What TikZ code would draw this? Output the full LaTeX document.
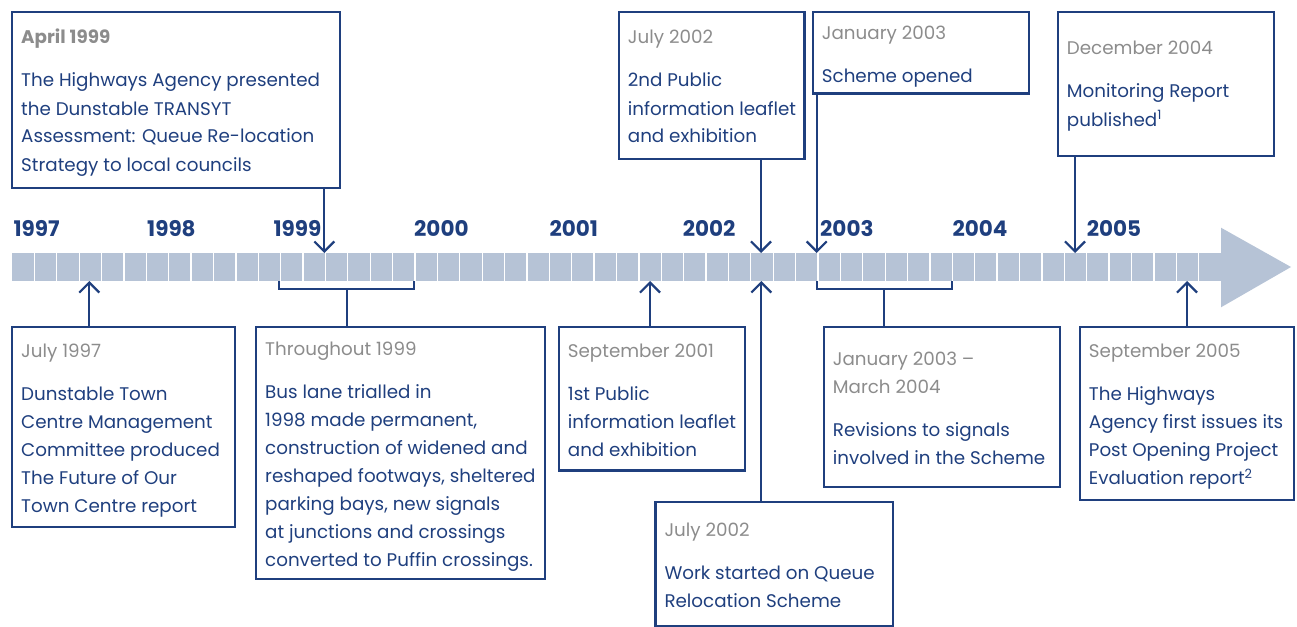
\documentclass[tikz,border=0pt]{standalone}
\usepackage{fontspec}
\setmainfont{Poppins}
\usetikzlibrary{arrows.meta}
\definecolor{hblue}{HTML}{1F3F7E}
\definecolor{hgray}{HTML}{8C8C8C}
\definecolor{hbar}{HTML}{B6C3D6}
\newcommand\evtext[2]{\parbox[t]{400pt}{\raggedright\fontsize{18.3}{28}\selectfont\lineskiplimit=-30pt\relax
  \leavevmode{\color{hgray}#1}\\[15pt]#2}}
\tikzset{
  box/.style={draw=hblue, line width=2.4pt, rectangle, inner sep=0pt, anchor=north west},
  txt/.style={anchor=base west, inner sep=0pt, text=hblue},
  arr/.style={draw=hblue, line width=2.2pt, -{Straight Barb[length=10pt,width=20pt]}},
  link/.style={draw=hblue, line width=2.2pt},
  yr/.style={anchor=base west, inner sep=0pt, text=hblue, font=\bfseries\fontsize{21.5}{21.5}\selectfont},
}
\begin{document}
\begin{tikzpicture}[x=1pt,y=-1pt]
\useasboundingbox (0,0) rectangle (1297,626);
% timeline bar
\fill[hbar] (12,253) rectangle (1221,281);
\foreach \i in {1,...,53} \draw[white, line width=1.3pt] ({12+\i*22.389},252) -- ++(0,30);
\fill[hbar] (1221,227.7) -- (1291,267) -- (1221,307.3) -- cycle;
% year labels
\node[yr] (y1997) at (13.3,236.7) {1997};
\node[yr] (y1998) at (147,236.7) {1998};
\node[yr] (y1999) at (273.3,236.7) {1999};
\node[yr] (y2000) at (414,236.7) {2000};
\node[yr] (y2001) at (549.3,236.7) {2001};
\node[yr] (y2002) at (682.7,236.7) {2002};
\node[yr] (y2003) at (820,236.7) {2003};
\node[yr] (y2004) at (952.3,236.7) {2004};
\node[yr] (y2005) at (1086.7,236.7) {2005};
% boxes
\node[box, minimum width=328pt, minimum height=176pt] (apr) at (11,11) {};
\node[box, minimum width=185.6pt, minimum height=146.7pt] (jul02t) at (617.7,11) {};
\node[box, minimum width=216pt, minimum height=81.3pt] (jan03t) at (811.7,11) {};
\node[box, minimum width=216pt, minimum height=144pt] (dec04) at (1056.7,11) {};
\node[box, minimum width=223pt, minimum height=200pt] (jul97) at (11,325.7) {};
\node[box, minimum width=289pt, minimum height=252.3pt] (thr99) at (255,325.7) {};
\node[box, minimum width=186.3pt, minimum height=143.6pt] (sep01) at (557.7,325.7) {};
\node[box, minimum width=237.4pt, minimum height=123.8pt] (jul02b) at (654.3,500.7) {};
\node[box, minimum width=236pt, minimum height=160pt] (jan0304) at (822.7,325.7) {};
\node[box, minimum width=214pt, minimum height=173.3pt] (sep05) at (1078.7,325.7) {};
% texts
\node[txt] (apr-t) at ([shift={(10,33)}]apr.north west) {\evtext{\textbf{April 1999}}{The Highways Agency presented\\the Dunstable TRANSYT\\Assessment: Queue Re-location\\Strategy to local councils}};
\node[txt] (jul02t-t) at ([shift={(10,33)}]jul02t.north west) {\evtext{July 2002}{2nd Public\\information leaflet\\and exhibition}};
\node[txt] (jan03t-t) at ([shift={(10,29)}]jan03t.north west) {\evtext{January 2003}{Scheme opened}};
\node[txt] (dec04-t) at ([shift={(10,44)}]dec04.north west) {\evtext{December 2004}{Monitoring Report\\published\textsuperscript{1}}};
\node[txt] (jul97-t) at ([shift={(10,31.3)}]jul97.north west) {\evtext{July 1997}{Dunstable Town\\Centre Management\\Committee produced\\The Future of Our\\Town Centre report}};
\node[txt] (thr99-t) at ([shift={(10,29.3)}]thr99.north west) {\evtext{Throughout 1999}{Bus lane trialled in\\1998 made permanent,\\construction of widened and\\reshaped footways, sheltered\\parking bays, new signals\\at junctions and crossings\\converted to Puffin crossings.}};
\node[txt] (sep01-t) at ([shift={(10,31.6)}]sep01.north west) {\evtext{September 2001}{1st Public\\information leaflet\\and exhibition}};
\node[txt] (jan0304-t) at ([shift={(10,39.3)}]jan0304.north west) {\evtext{January 2003 --\\March 2004}{Revisions to signals\\involved in the Scheme}};
\node[txt] (sep05-t) at ([shift={(10,31.6)}]sep05.north west) {\evtext{September 2005}{The Highways\\Agency first issues its\\Post Opening Project\\Evaluation report\textsuperscript{2}}};
\node[txt] (jul02b-t) at ([shift={(10,35.3)}]jul02b.north west) {\evtext{July 2002}{Work started on Queue\\Relocation Scheme}};
% arrow targets on the bar
\coordinate (tApr) at (324.3,253);
\coordinate (tJul02t) at (761,253);
\coordinate (tJan03) at (816.7,253);
\coordinate (tDec04) at (1075,253);
\coordinate (tJul97) at (89.3,281);
\coordinate (tSep01) at (650,281);
\coordinate (tJul02b) at (761.3,281);
\coordinate (tSep05) at (1187,281);
\draw[arr] (apr.south -| tApr) -- (tApr);
\draw[arr] (jul02t.south -| tJul02t) -- (tJul02t);
\draw[arr] (jan03t.south -| tJan03) -- (tJan03);
\draw[arr] (dec04.south -| tDec04) -- (tDec04);
\draw[arr] (jul97.north -| tJul97) -- (tJul97);
\draw[arr] (sep01.north -| tSep01) -- (tSep01);
\draw[arr] (jul02b.north -| tJul02b) -- (tJul02b);
\draw[arr] (sep05.north -| tSep05) -- (tSep05);
% brackets
\draw[link] (279.3,281) -- (279.3,289) -- (413.7,289) -- (413.7,281);
\draw[link] (817,281) -- (817,289) -- (952,289) -- (952,281);
\coordinate (b99) at (346.7,289);
\coordinate (b03) at (884.3,289);
\draw[link] (b99) -- (b99 |- thr99.north);
\draw[link] (b03) -- (b03 |- jan0304.north);
\end{tikzpicture}
\end{document}
